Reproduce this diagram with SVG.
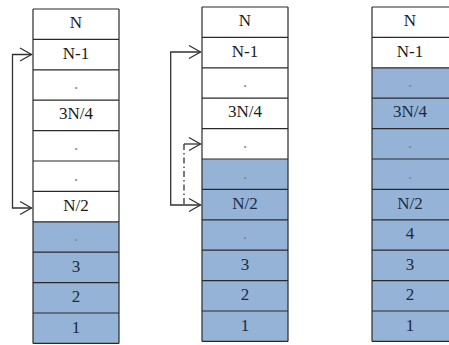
<svg xmlns="http://www.w3.org/2000/svg" width="449" height="345" viewBox="0 0 449 345">
<style>
.w{fill:#ffffff}
.b{fill:#95b3d7}
.ln{stroke:#2a2a2a;stroke-width:1.2;fill:none}
.t{font-family:"Liberation Serif","Times New Roman",serif;font-size:17px;fill:#1a1a1a;text-anchor:middle}
.tb{fill:#1c2a44}
.dot{font-family:"Liberation Serif",serif;font-size:17px;fill:#888;text-anchor:middle}
.ar{stroke:#333;stroke-width:1.3;fill:none}
</style>
<rect width="449" height="345" fill="#ffffff"/>

<g id="col1">
<rect class="w" x="33" y="9" width="86" height="212.8"/>
<rect class="b" x="33" y="221.8" width="86" height="121.6"/>
<path class="ln" d="M33,9V343.4M119,9V343.4M33,9H119M33,39.4H119M33,69.8H119M33,100.2H119M33,130.6H119M33,161H119M33,191.4H119M33,221.8H119M33,252.2H119M33,282.6H119M33,313H119M33,343.4H119"/>
<text class="t" x="76" y="28">N</text>
<text class="t" x="76" y="58.5">N-1</text>
<text class="dot" x="76" y="89">.</text>
<text class="t" x="76" y="119">3N/4</text>
<text class="dot" x="76" y="150">.</text>
<text class="dot" x="76" y="180.5">.</text>
<text class="t" x="76" y="210.5">N/2</text>
<text class="dot" x="76" y="241">.</text>
<text class="t tb" x="76" y="271.5">3</text>
<text class="t tb" x="76" y="302">2</text>
<text class="t tb" x="76" y="332.5">1</text>
</g>

<g id="col2">
<rect class="w" x="202" y="7" width="86" height="152"/>
<rect class="b" x="202" y="159" width="86" height="182.4"/>
<path class="ln" d="M202,7V341.4M288,7V341.4M202,7H288M202,37.4H288M202,67.8H288M202,98.2H288M202,128.6H288M202,159H288M202,189.4H288M202,219.8H288M202,250.2H288M202,280.6H288M202,311H288M202,341.4H288"/>
<text class="t" x="245" y="26">N</text>
<text class="t" x="245" y="56.5">N-1</text>
<text class="dot" x="245" y="87">.</text>
<text class="t" x="245" y="117">3N/4</text>
<text class="dot" x="245" y="148">.</text>
<text class="dot" x="245" y="178.5">.</text>
<text class="t tb" x="245" y="209">N/2</text>
<text class="dot" x="245" y="239">.</text>
<text class="t tb" x="245" y="269.5">3</text>
<text class="t tb" x="245" y="300">2</text>
<text class="t tb" x="245" y="330.5">1</text>
</g>

<g id="col3">
<rect class="w" x="372" y="7" width="77" height="60.8"/>
<rect class="b" x="372" y="67.8" width="77" height="273.6"/>
<path class="ln" d="M372,7V341.4M372,7H449M372,37.4H449M372,67.8H449M372,98.2H449M372,128.6H449M372,159H449M372,189.4H449M372,219.8H449M372,250.2H449M372,280.6H449M372,311H449M372,341.4H449"/>
<text class="t" x="410" y="26">N</text>
<text class="t" x="410" y="56.5">N-1</text>
<text class="dot" x="410" y="87">.</text>
<text class="t tb" x="410" y="117">3N/4</text>
<text class="dot" x="410" y="148">.</text>
<text class="dot" x="410" y="178.5">.</text>
<text class="t tb" x="410" y="209">N/2</text>
<text class="t tb" x="410" y="239">4</text>
<text class="t tb" x="410" y="269.5">3</text>
<text class="t tb" x="410" y="300">2</text>
<text class="t tb" x="410" y="330.5">1</text>
</g>

<g id="connectors">
<path class="ar" d="M31.5,54.5H12.5V208H31.5"/>
<path class="ar" d="M20,48L31.5,54.5L20,61M20,201.5L31.5,208L20,214.5"/>
<path class="ar" d="M200.5,52H170.7V205H200.5"/>
<path class="ar" d="M189,45.5L200.5,52L189,58.5M189,198.5L200.5,205L189,211.5"/>
<path class="ar" d="M200.5,144H184"/>
<path class="ar" d="M184,144V205" stroke-dasharray="6,3,1.5,3"/>
<path class="ar" d="M189,137.5L200.5,144L189,150.5"/>
</g>
</svg>
